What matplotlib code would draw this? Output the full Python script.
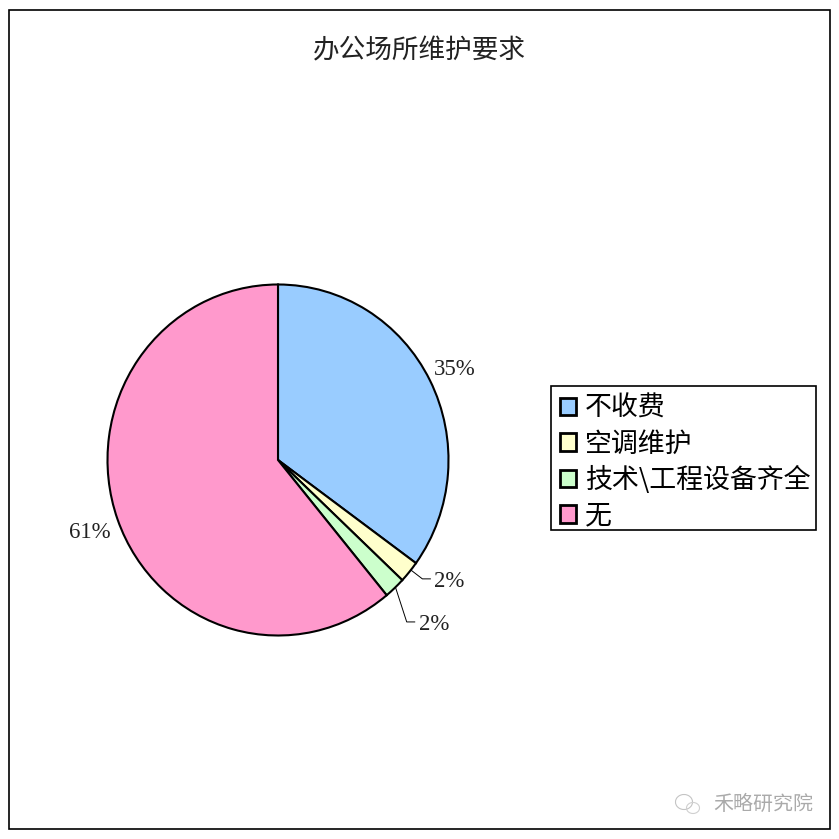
import numpy as np
import matplotlib
matplotlib.use('Agg')
import matplotlib.pyplot as plt
from matplotlib.patches import Rectangle, Arc

plt.rcParams['font.family'] = ['Noto Sans CJK SC', 'DejaVu Sans']

title = '办公场所维护要求'
categories = ['不收费', '空调维护', '技术\\工程设备齐全', '无']
values = [35, 2, 2, 61]
colors = ['#99ccff', '#ffffcc', '#ccffcc', '#ff99cc']
pct_labels = ['35%', '2%', '2%', '61%']
# label offset from the rim, in px
label_offsets = [(4, 11), (25, -10), (24, -37), (-7, -13)]

W = 839
fig = plt.figure(figsize=(W/100, W/100), dpi=100, facecolor='white')
ax = fig.add_axes([0, 0, 1, 1])
ax.set_xlim(0, W)
ax.set_ylim(0, W)
ax.axis('off')

# outer frame
ax.add_patch(Rectangle((9, W-829), 821, 819, fill=False, ec='black', lw=1.2))

# the pie in the reference is a bit taller than wide, so it gets its own axes
cx, cy, rx, ry = 278, W-460, 170.5, 175.5
pie_ax = fig.add_axes([(cx-rx)/W, (cy-ry)/W, 2*rx/W, 2*ry/W])
wedges, _ = pie_ax.pie(values, colors=colors, startangle=90, counterclock=False,
                       wedgeprops={'edgecolor': 'black', 'linewidth': 1.5, 'clip_on': False})
pie_ax.set_xlim(-1, 1)
pie_ax.set_ylim(-1, 1)
pie_ax.set_aspect('auto')
pie_ax.axis('off')

# percent labels, leader lines for the small slices
total = sum(values)
cum = 0
for v, lab, off in zip(values, pct_labels, label_offsets):
    mid = (cum + v/2)/total*2*np.pi
    cum += v
    x = cx + rx*np.sin(mid)
    y = cy + ry*np.cos(mid)
    ha = 'left' if off[0] > 0 else 'right'
    ax.text(x+off[0], y+off[1], lab, family='Liberation Serif', fontsize=16.5,
            color='#222222', ha=ha, va='center')
    if v < 5:
        end = x+off[0]-4
        ax.plot([x, end-8, end], [y+3, y+off[1]+3, y+off[1]+3], color='black', lw=0.7)

# legend box drawn apart so its padding can match
ax.add_patch(Rectangle((551, W-530), 265, 144, fc='white', ec='black', lw=1.2, zorder=3))
leg = fig.legend(wedges, categories, loc='upper left',
                 bbox_to_anchor=(560/W, 1-395/W), bbox_transform=fig.transFigure,
                 fontsize=19.4, frameon=False,
                 handlelength=0.6, handleheight=0.6, handletextpad=0.33,
                 labelspacing=0.315, borderpad=0, borderaxespad=0)
for h in leg.legend_handles:
    h.set_linewidth(2)

ax.text(419.5, W-51, title, fontsize=19.2, ha='center', va='center', color='#222222')

# watermark
ax.text(813, W-804, '禾略研究院', fontsize=14.4, ha='right', va='center', color='#aaaaaa')
ax.add_patch(Arc((684, W-802), 17, 15, color='#c4c4c4', lw=0.8))
ax.add_patch(Arc((693, W-808), 13, 11, color='#d0d0d0', lw=0.8))

fig.savefig('out.png', dpi=100, facecolor='white')
